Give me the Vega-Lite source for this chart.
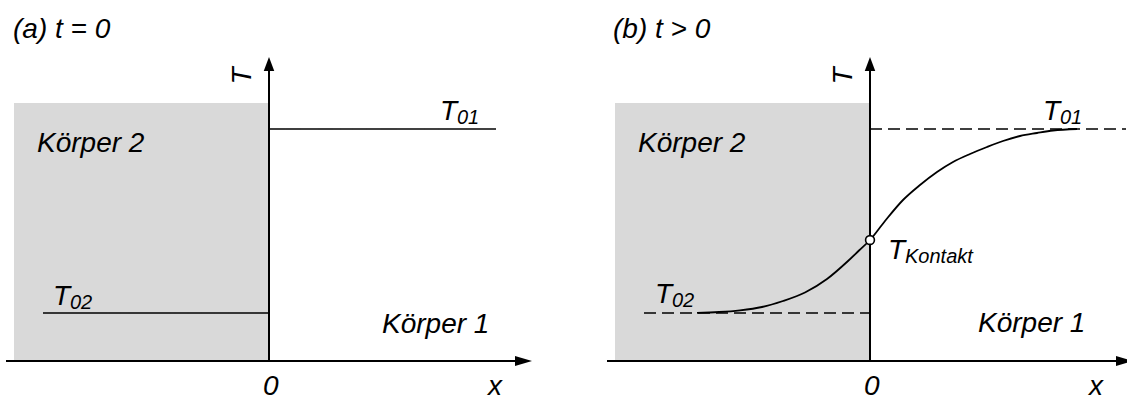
{
  "$schema": "https://vega.github.io/schema/vega-lite/v6.json",
  "padding": 0,
  "autosize": {"type": "pad"},
  "config": {
    "view": {"stroke": null},
    "text": {"font": "Liberation Sans", "fontStyle": "italic", "color": "black"}
  },
  "data": {
    "values": [
      {"panel": "a", "kind": "body", "x": -2.55, "x2": 0, "T": 0, "T2": 2.58},
      {"panel": "b", "kind": "body", "x": -2.55, "x2": 0, "T": 0, "T2": 2.58},

      {"panel": "a", "kind": "x-axis", "x": -2.63, "x2": 2.5, "T": 0},
      {"panel": "b", "kind": "x-axis", "x": -2.63, "x2": 2.5, "T": 0},
      {"panel": "a", "kind": "x-arrow", "x": 2.63, "T": 0},
      {"panel": "b", "kind": "x-arrow", "x": 2.63, "T": 0},
      {"panel": "a", "kind": "T-axis", "x": 0, "T": 0, "T2": 2.92},
      {"panel": "b", "kind": "T-axis", "x": 0, "T": 0, "T2": 2.92},
      {"panel": "a", "kind": "T-arrow", "x": 0, "T": 3.04},
      {"panel": "b", "kind": "T-arrow", "x": 0, "T": 3.04},

      {"panel": "a", "kind": "level", "x": 0, "x2": 2.27, "T": 2.32},
      {"panel": "a", "kind": "level", "x": -2.26, "x2": 0, "T": 0.48},
      {"panel": "b", "kind": "level", "x": 0, "x2": 2.56, "T": 2.32},
      {"panel": "b", "kind": "level", "x": -2.26, "x2": 0, "T": 0.48},

      {"panel": "b", "kind": "profile", "x": -1.73, "T": 0.482},
      {"panel": "b", "kind": "profile", "x": -1.51, "T": 0.49},
      {"panel": "b", "kind": "profile", "x": -1.3, "T": 0.507},
      {"panel": "b", "kind": "profile", "x": -1.08, "T": 0.54},
      {"panel": "b", "kind": "profile", "x": -0.87, "T": 0.6},
      {"panel": "b", "kind": "profile", "x": -0.65, "T": 0.685},
      {"panel": "b", "kind": "profile", "x": -0.43, "T": 0.82},
      {"panel": "b", "kind": "profile", "x": -0.22, "T": 1.0},
      {"panel": "b", "kind": "profile", "x": -0.11, "T": 1.105},
      {"panel": "b", "kind": "profile", "x": 0, "T": 1.21},
      {"panel": "b", "kind": "profile", "x": 0.15, "T": 1.4},
      {"panel": "b", "kind": "profile", "x": 0.33, "T": 1.61},
      {"panel": "b", "kind": "profile", "x": 0.5, "T": 1.76},
      {"panel": "b", "kind": "profile", "x": 0.67, "T": 1.89},
      {"panel": "b", "kind": "profile", "x": 0.83, "T": 1.99},
      {"panel": "b", "kind": "profile", "x": 1.0, "T": 2.07},
      {"panel": "b", "kind": "profile", "x": 1.17, "T": 2.14},
      {"panel": "b", "kind": "profile", "x": 1.33, "T": 2.2},
      {"panel": "b", "kind": "profile", "x": 1.5, "T": 2.25},
      {"panel": "b", "kind": "profile", "x": 1.67, "T": 2.28},
      {"panel": "b", "kind": "profile", "x": 1.83, "T": 2.305},
      {"panel": "b", "kind": "profile", "x": 2.07, "T": 2.32},

      {"panel": "b", "kind": "contact", "x": 0, "T": 1.21},

      {"panel": "a", "kind": "T-title", "label": "T", "x": -0.26, "T": 2.85},
      {"panel": "b", "kind": "T-title", "label": "T", "x": -0.26, "T": 2.85},

      {"panel": "a", "kind": "label", "label": "(a) t = 0", "x": -2.56, "T": 3.23},
      {"panel": "a", "kind": "label", "label": "Körper 2", "x": -2.32, "T": 2.09},
      {"panel": "a", "kind": "label", "label": "Körper 1", "x": 1.13, "T": 0.28},
      {"panel": "a", "kind": "label", "label": "0", "x": -0.06, "T": -0.34},
      {"panel": "a", "kind": "label", "label": "x", "x": 2.19, "T": -0.34},
      {"panel": "a", "kind": "label", "label": "T", "sub": "01", "x": 1.71, "T": 2.41},
      {"panel": "a", "kind": "label", "label": "T", "sub": "02", "x": -2.16, "T": 0.56},

      {"panel": "b", "kind": "label", "label": "(b) t > 0", "x": -2.57, "T": 3.23},
      {"panel": "b", "kind": "label", "label": "Körper 2", "x": -2.32, "T": 2.09},
      {"panel": "b", "kind": "label", "label": "Körper 1", "x": 1.08, "T": 0.29},
      {"panel": "b", "kind": "label", "label": "0", "x": -0.06, "T": -0.34},
      {"panel": "b", "kind": "label", "label": "x", "x": 2.19, "T": -0.34},
      {"panel": "b", "kind": "label", "label": "T", "sub": "01", "x": 1.73, "T": 2.41},
      {"panel": "b", "kind": "label", "label": "T", "sub": "02", "x": -2.15, "T": 0.58},
      {"panel": "b", "kind": "label", "label": "T", "sub": "Kontakt", "x": 0.18, "T": 1.02}
    ]
  },
  "facet": {"column": {"field": "panel", "type": "nominal", "header": null}},
  "spacing": 75,
  "bounds": "flush",
  "spec": {
    "width": 526,
    "height": 399,
    "encoding": {
      "x": {"field": "x", "type": "quantitative", "scale": {"domain": [-2.69, 2.57], "nice": false, "zero": false}, "axis": null},
      "y": {"field": "T", "type": "quantitative", "scale": {"domain": [-0.38, 3.61], "nice": false, "zero": false}, "axis": null}
    },
    "layer": [
      {
        "transform": [{"filter": "datum.kind === 'body'"}],
        "mark": {"type": "rect", "color": "#d9d9d9"},
        "encoding": {"x2": {"field": "x2"}, "y2": {"field": "T2"}}
      },
      {
        "transform": [{"filter": "datum.kind === 'level'"}],
        "mark": {"type": "rule", "color": "black", "strokeWidth": 1.7},
        "encoding": {
          "x2": {"field": "x2"},
          "strokeDash": {"field": "panel", "type": "nominal", "scale": {"domain": ["a", "b"], "range": [[1, 0], [12, 6]]}, "legend": null}
        }
      },
      {
        "transform": [{"filter": "datum.kind === 'profile'"}],
        "mark": {"type": "line", "color": "black", "strokeWidth": 1.8, "interpolate": "monotone"},
        "encoding": {}
      },
      {
        "transform": [{"filter": "datum.kind === 'x-axis'"}],
        "mark": {"type": "rule", "color": "black", "strokeWidth": 2},
        "encoding": {"x2": {"field": "x2"}}
      },
      {
        "transform": [{"filter": "datum.kind === 'T-axis'"}],
        "mark": {"type": "rule", "color": "black", "strokeWidth": 2},
        "encoding": {"y2": {"field": "T2"}}
      },
      {
        "transform": [{"filter": "datum.kind === 'x-arrow'"}],
        "mark": {"type": "point", "shape": "M0,0L-2,-0.6L-2,0.6Z", "size": 289, "filled": true, "color": "black", "opacity": 1}
      },
      {
        "transform": [{"filter": "datum.kind === 'T-arrow'"}],
        "mark": {"type": "point", "shape": "M0,0L-0.75,2L0.75,2Z", "size": 196, "filled": true, "color": "black", "opacity": 1}
      },
      {
        "transform": [{"filter": "datum.kind === 'contact'"}],
        "mark": {"type": "point", "shape": "circle", "size": 78, "filled": true, "fill": "white", "stroke": "black", "strokeWidth": 1.6, "opacity": 1}
      },
      {
        "transform": [{"filter": "datum.kind === 'T-title'"}],
        "mark": {"type": "text", "fontSize": 28, "angle": 270, "align": "center", "baseline": "middle"},
        "encoding": {"text": {"field": "label"}}
      },
      {
        "transform": [{"filter": "datum.kind === 'label'"}],
        "mark": {"type": "text", "fontSize": 28, "align": "left", "baseline": "alphabetic"},
        "encoding": {"text": {"field": "label"}}
      },
      {
        "transform": [{"filter": "datum.kind === 'label' && datum.sub"}],
        "mark": {"type": "text", "fontSize": 20, "align": "left", "baseline": "alphabetic", "dx": 17, "dy": 4},
        "encoding": {"text": {"field": "sub"}}
      }
    ]
  }
}
